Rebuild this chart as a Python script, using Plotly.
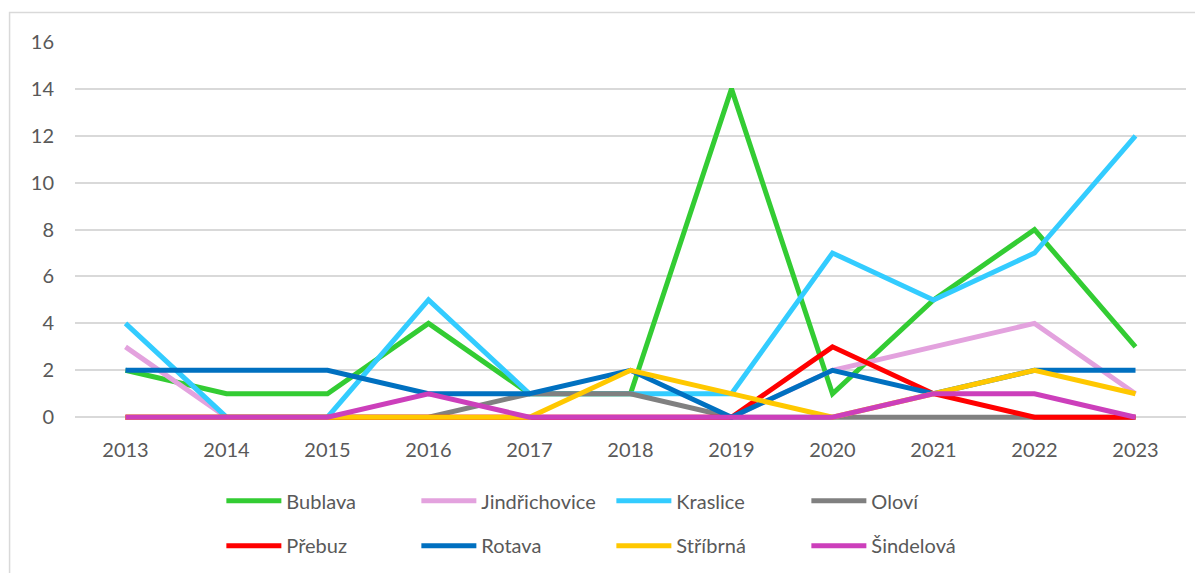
import plotly.graph_objects as go

years = ["2013", "2014", "2015", "2016", "2017", "2018", "2019", "2020", "2021", "2022", "2023"]

bublava = [2, 1, 1, 4, 1, 1, 14, 1, 5, 8, 3]
jindrichovice = [3, 0, 0, 0, 0, 0, 0, 2, 3, 4, 1]
kraslice = [4, 0, 0, 5, 1, 1, 1, 7, 5, 7, 12]
olovi = [0, 0, 0, 0, 1, 1, 0, 0, 0, 0, 0]
prebuz = [0, 0, 0, 0, 0, 0, 0, 3, 1, 0, 0]
rotava = [2, 2, 2, 1, 1, 2, 0, 2, 1, 2, 2]
stribrna = [0, 0, 0, 0, 0, 2, 1, 0, 1, 2, 1]
sindelova = [0, 0, 0, 1, 0, 0, 0, 0, 1, 1, 0]

series = [
    ("Bublava", bublava, "#33CC33", "legend"),
    ("Jindřichovice", jindrichovice, "#E3A2DE", "legend"),
    ("Kraslice", kraslice, "#33CCFF", "legend"),
    ("Oloví", olovi, "#808080", "legend"),
    ("Přebuz", prebuz, "#FF0000", "legend2"),
    ("Rotava", rotava, "#0070C0", "legend2"),
    ("Stříbrná", stribrna, "#FFC800", "legend2"),
    ("Šindelová", sindelova, "#CC3FBB", "legend2"),
]

FONT = "Lato, 'Open Sans', sans-serif"
TXT = "#595959"

fig = go.Figure()
for name, vals, color, lg in series:
    fig.add_trace(go.Scatter(
        x=years, y=vals, name=name, mode="lines",
        line=dict(color=color, width=5),
        legend=lg,
    ))

# the page body has an 8px default margin; work in figure coords
OFF = 8
Y_TOP_PX, Y_ZERO_PX = 41.5, 417.3      # page px of 16 and 0 gridlines
YMAX, YPAD = 16, 0.12                  # small pad below 0 so lines at 0 are not clipped
unit = (Y_ZERO_PX - Y_TOP_PX) / YMAX
plot_bottom_px = Y_ZERO_PX + YPAD * unit

W, H = 1203 - OFF, 573 - OFF
ml = 74.5 - OFF
mt = Y_TOP_PX - OFF
mr = W - (1186.5 - OFF)
mb = H - (plot_bottom_px - OFF)
pw = W - ml - mr
ph = H - mt - mb

def px_to_paper_x(px):
    # px given in page coordinates
    return (px - OFF - ml) / pw

def px_to_paper_y(py):
    return (H - mb - (py - OFF)) / ph

legend_common = dict(
    orientation="h",
    xanchor="left", yanchor="middle",
    font=dict(family=FONT, size=20, color=TXT),
    itemwidth=55,
    entrywidth=125, entrywidthmode="pixels",
    bgcolor="rgba(0,0,0,0)",
    itemclick=False, itemdoubleclick=False,
)

fig.update_layout(
    width=W, height=H,
    margin=dict(l=ml, r=mr, t=mt, b=mb, autoexpand=False),
    paper_bgcolor="white", plot_bgcolor="white",
    font=dict(family=FONT, size=20, color=TXT),
    showlegend=True,
    legend=dict(x=px_to_paper_x(221), y=px_to_paper_y(501), **legend_common),
    legend2=dict(x=px_to_paper_x(221), y=px_to_paper_y(546), **legend_common),
    xaxis=dict(
        type="category", range=[-0.5, 10.5],
        showgrid=False, showline=False, zeroline=False,
        ticks="", ticklabelstandoff=16,
        tickfont=dict(family=FONT, size=20, color=TXT),
    ),
    yaxis=dict(
        range=[-YPAD, YMAX], dtick=2, tick0=0,
        showgrid=True, gridcolor="#D9D9D9", gridwidth=1.5,
        zeroline=False, showline=False,
        ticks="", ticklabelstandoff=20,
        tickfont=dict(family=FONT, size=20, color=TXT),
    ),
    shapes=[dict(
        type="rect", xref="paper", yref="paper",
        x0=px_to_paper_x(9), x1=px_to_paper_x(1215),
        y0=px_to_paper_y(590), y1=px_to_paper_y(12),
        line=dict(color="#D9D9D9", width=1.5), fillcolor="rgba(0,0,0,0)",
        layer="below",
    )],
)

fig.write_html("out.html")
